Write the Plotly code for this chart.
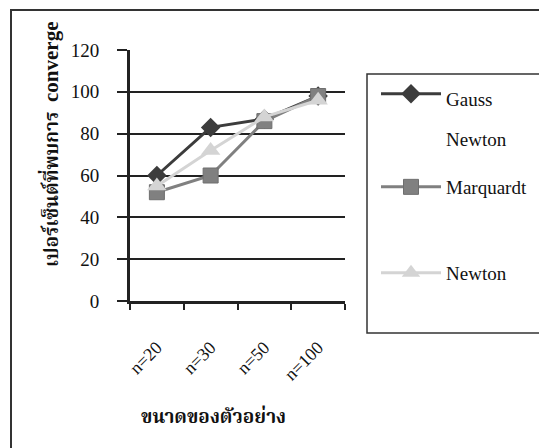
import plotly.graph_objects as go

categories = ["n=20", "n=30", "n=50", "n=100"]
gauss_newton = [60, 83, 87, 98]
marquardt = [52, 60, 86, 98]
newton = [55, 72, 88, 96]
y_ticks = [0, 20, 40, 60, 80, 100, 120]

FONT = "Liberation Serif, Times New Roman, Noto Serif Thai, Noto Sans Thai, serif"
LEG_SIZE = 19

# plot area pixels
L, R, T, B = 130, 345, 50, 301
W, H = 539, 448
def px(x):
    return (x - L) / (R - L)
def py(y):
    return (B - y) / (B - T)

def sized(t, s):
    return "<span style='font-size:%dpx'>%s</span>" % (s, t)

fig = go.Figure()
fig.add_trace(go.Scatter(x=categories, y=gauss_newton,
                         name=sized("Gauss", LEG_SIZE) + "<br>" + sized("Newton", LEG_SIZE),
                         mode="lines+markers",
                         line=dict(color="#3c3c3c", width=3),
                         marker=dict(symbol="diamond", size=15, color="#3c3c3c"),
                         legend="legend"))
fig.add_trace(go.Scatter(x=categories, y=marquardt, name="Marquardt",
                         mode="lines+markers",
                         line=dict(color="#808080", width=3),
                         marker=dict(symbol="square", size=15, color="#808080",
                                     line=dict(color="#6e6e6e", width=1)),
                         legend="legend2"))
fig.add_trace(go.Scatter(x=categories, y=newton, name="Newton",
                         mode="lines+markers",
                         line=dict(color="#d4d4d4", width=3),
                         marker=dict(symbol="triangle-up", size=17, color="#d4d4d4"),
                         legend="legend3"))

leg_common = dict(bgcolor="rgba(0,0,0,0)", borderwidth=0,
                  xanchor="left", yanchor="top", valign="top",
                  itemwidth=60)

fig.update_layout(
    width=W, height=H,
    showlegend=True,
    margin=dict(l=L, r=W - R, t=T, b=H - B, autoexpand=False),
    paper_bgcolor="white", plot_bgcolor="white",
    font=dict(family=FONT, size=16, color="#111"),
    legend=dict(x=px(376), y=py(67), font=dict(family=FONT, size=31, color="#111"), **leg_common),
    legend2=dict(x=px(376), y=py(168), font=dict(family=FONT, size=LEG_SIZE, color="#111"), **leg_common),
    legend3=dict(x=px(376), y=py(254), font=dict(family=FONT, size=LEG_SIZE, color="#111"), **leg_common),
    xaxis=dict(
        type="category", range=[-0.5, 3.5],
        showline=True, linecolor="#222", linewidth=3,
        ticks="outside", tickson="boundaries", ticklen=6, tickwidth=2, tickcolor="#222",
        tickangle=-45, showgrid=False, zeroline=False, automargin=False,
        ticklabelstandoff=26,
        tickfont=dict(family=FONT, size=18),
    ),
    yaxis=dict(
        range=[0, 120], tickvals=y_ticks,
        showline=True, linecolor="#222", linewidth=3,
        ticks="outside", ticklen=10, tickwidth=2, tickcolor="#222",
        showgrid=True, gridcolor="#222", gridwidth=2, automargin=False,
        zeroline=False, ticklabelstandoff=14,
        tickfont=dict(family=FONT, size=19),
    ),
    shapes=[
        dict(type="rect", xref="paper", yref="paper",
             x0=px(11), x1=px(560), y0=py(470), y1=py(10),
             line=dict(color="#333", width=2), layer="below"),
        dict(type="rect", xref="paper", yref="paper",
             x0=px(367), x1=px(560), y0=py(333), y1=py(74),
             line=dict(color="#333", width=1.5), layer="below"),
    ],
    annotations=[
        dict(text="<b>เปอร์เซ็นต์ที่พบการ  " + sized("converge", 21) + "</b>",
             xref="paper", yref="paper",
             x=px(50), y=py(145), showarrow=False, textangle=-90,
             font=dict(family=FONT, size=19, color="#111"),
             xanchor="center", yanchor="middle"),
        dict(text="<b>ขนาดของตัวอย่าง</b>", xref="paper", yref="paper",
             x=px(213), y=py(416), showarrow=False,
             font=dict(family=FONT, size=19, color="#111"),
             xanchor="center", yanchor="middle"),
    ],
)

fig.write_html("out.html")
